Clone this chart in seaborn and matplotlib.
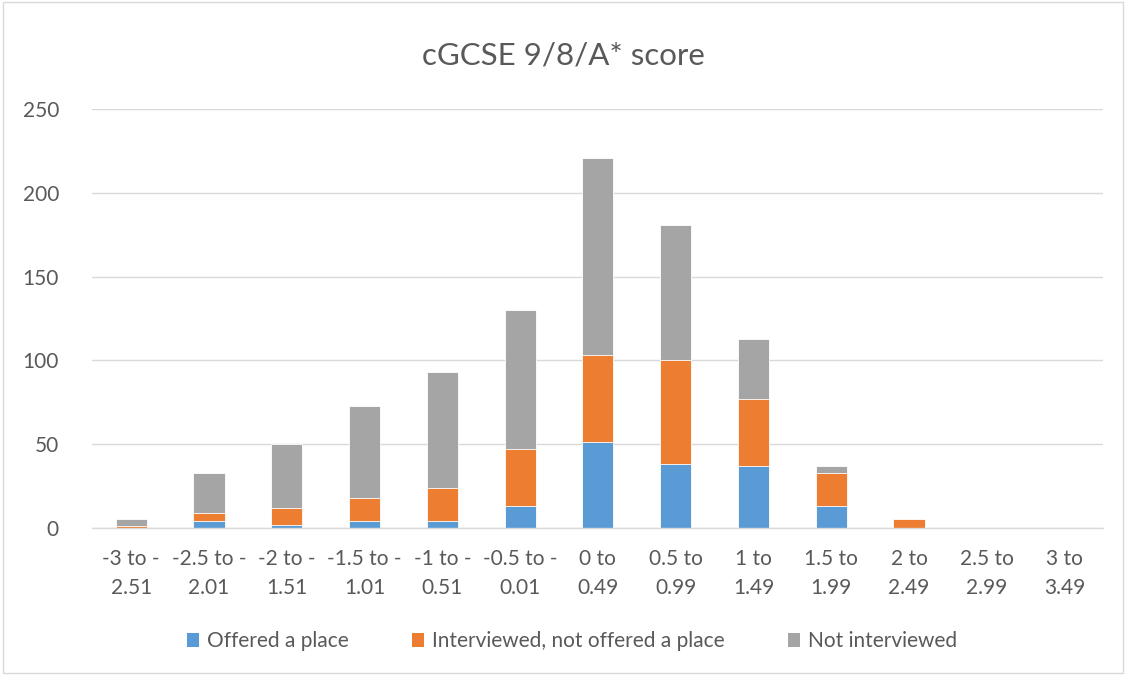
"""Stacked bar chart of cGCSE 9/8/A* score bands by outcome."""

import pandas as pd
import matplotlib.pyplot as plt
import seaborn as sns
from matplotlib.patches import Patch

BANDS = [
    "-3 to -\n2.51", "-2.5 to -\n2.01", "-2 to -\n1.51", "-1.5 to -\n1.01",
    "-1 to -\n0.51", "-0.5 to -\n0.01", "0 to\n0.49", "0.5 to\n0.99",
    "1 to\n1.49", "1.5 to\n1.99", "2 to\n2.49", "2.5 to\n2.99", "3 to\n3.49",
]
OFFERED = [0, 4, 2, 4, 4, 13, 51, 38, 37, 13, 0, 0, 0]
INTERVIEWED = [1, 5, 10, 14, 20, 34, 52, 62, 40, 20, 5, 0, 0]
NOT_INTERVIEWED = [4, 24, 38, 55, 69, 83, 118, 81, 36, 4, 0, 0, 0]

SERIES = ["Offered a place", "Interviewed, not offered a place", "Not interviewed"]
COLORS = ["#5B9BD5", "#ED7D31", "#A5A5A5"]
TEXT = "#595959"

sns.set_theme(style="white")
plt.rcParams["font.family"] = ["Lato", "DejaVu Sans"]

df = pd.DataFrame({
    "band": BANDS,
    "offered": OFFERED,
    "interviewed": INTERVIEWED,
    "not_interviewed": NOT_INTERVIEWED,
})
# cumulative heights so each layer can be drawn on top of the previous one
df["c1"] = df["offered"]
df["c2"] = df["c1"] + df["interviewed"]
df["c3"] = df["c2"] + df["not_interviewed"]

fig = plt.figure(figsize=(11.26, 6.75), dpi=100)
ax = fig.add_axes([0.082, 0.218, 0.898, 0.62])

for col, color in zip(["c3", "c2", "c1"], COLORS[::-1]):
    sns.barplot(data=df, x="band", y=col, order=BANDS, color=color, width=0.4,
                edgecolor="white", linewidth=0.6, saturation=1, ax=ax)

ax.set_ylim(0, 250)
ax.set_yticks([0, 50, 100, 150, 200, 250])
ax.set_xlim(-0.5, len(BANDS) - 0.5)
ax.yaxis.grid(True, color="#D9D9D9", linewidth=1)
ax.set_axisbelow(True)
for side in ["top", "right", "left"]:
    ax.spines[side].set_visible(False)
ax.spines["bottom"].set_color("#D9D9D9")
ax.spines["bottom"].set_linewidth(1)
ax.tick_params(axis="both", length=0, colors=TEXT, labelsize=15)
ax.tick_params(axis="y", pad=24)
ax.tick_params(axis="x", pad=15)
for lbl in ax.get_xticklabels():
    lbl.set_linespacing(1.6)
ax.set_xlabel("")
ax.set_ylabel("")

fig.text(0.5, 0.918, "cGCSE 9/8/A* score", ha="center", va="center",
         fontsize=22.5, color=TEXT)

handles = [Patch(facecolor=c, edgecolor="none") for c in COLORS]
fig.legend(handles, SERIES, loc="center", bbox_to_anchor=(0.508, 0.05), ncol=3,
           frameon=False, fontsize=15, handlelength=0.6, handleheight=0.6,
           handletextpad=0.4, columnspacing=3.0, labelcolor=TEXT)

fig.patches.append(plt.Rectangle((0.003, 0.003), 0.994, 0.994, transform=fig.transFigure,
                                 fill=False, edgecolor="#D9D9D9", linewidth=1))

fig.savefig("out.png", dpi=100)
